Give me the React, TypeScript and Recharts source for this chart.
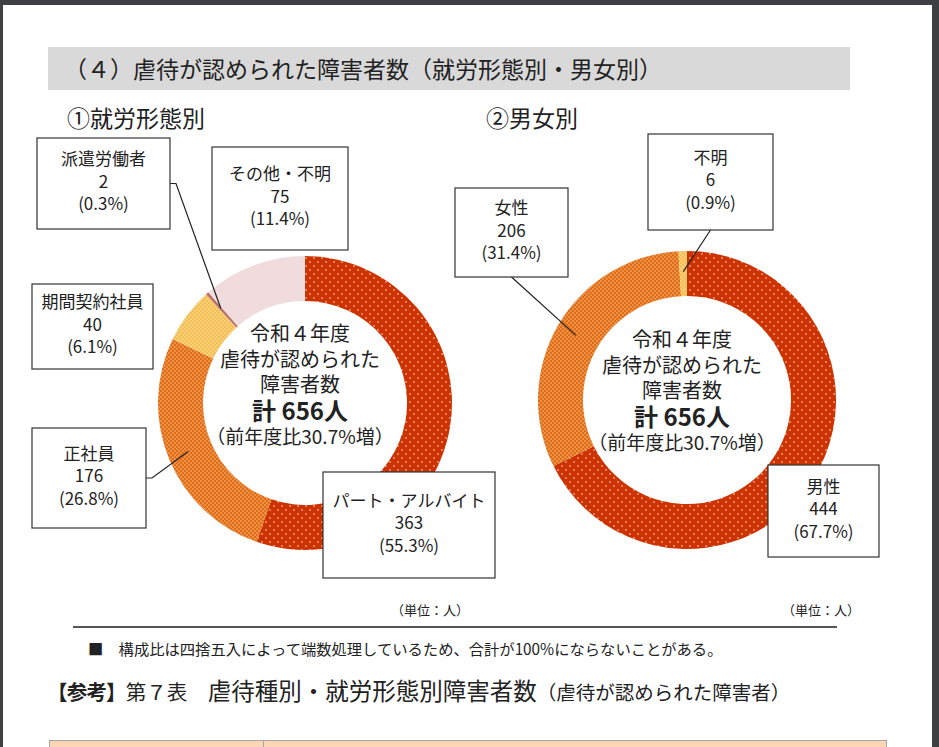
import { PieChart, Pie, Cell } from "recharts"

const employmentNames = ["パート・アルバイト", "正社員", "期間契約社員", "派遣労働者", "その他・不明"]
const employmentValues = [363, 176, 40, 2, 75]
const genderNames = ["男性", "女性", "不明"]
const genderValues = [444, 206, 6]

const centerLines = ["令和４年度", "虐待が認められた", "障害者数"]
const totalLabel = "計 656人"
const growthLabel = "（前年度比30.7%増）"

const pageTitle = "（４）虐待が認められた障害者数（就労形態別・男女別）"
const leftTitle = "①就労形態別"
const rightTitle = "②男女別"
const unitLabel = "（単位：人）"
const footNote = "■　構成比は四捨五入によって端数処理しているため、合計が100%にならないことがある。"

const RADIAN = Math.PI / 180
const FONT = '"Noto Sans CJK JP", "Noto Sans", sans-serif'
const INK = "#222"
// baseline shift that puts a Noto CJK glyph's middle on a given y
const mid = (fs: number) => fs * 0.436

type Box = { x: number; y: number; w: number; h: number; link?: "right" | "bottom" }

// label boxes, laid out like the original sheet
const employmentBoxes: Box[] = [
  { x: 323, y: 472, w: 172, h: 106 },
  { x: 32, y: 428, w: 114, h: 100, link: "right" },
  { x: 32, y: 284, w: 121, h: 85 },
  { x: 37, y: 138, w: 133, h: 91, link: "right" },
  { x: 212, y: 147, w: 136, h: 103 },
]
const genderBoxes: Box[] = [
  { x: 768, y: 465, w: 111, h: 92 },
  { x: 455, y: 188, w: 113, h: 89, link: "bottom" },
  { x: 648, y: 134, w: 125, h: 96, link: "bottom" },
]

const employmentFills = ["url(#dotRed)", "url(#dotOrange)", "url(#dotYellow)", "#B86E6C", "#F0DCDC"]
const genderFills = ["url(#dotRed)", "url(#dotOrange)", "url(#dotYellow)"]

const employmentData = employmentNames.map((name, i) => ({ name, value: employmentValues[i] }))
const genderData = genderNames.map((name, i) => ({ name, value: genderValues[i] }))

const boxLabel = (boxes: Box[], names: string[], values: number[]) => (props: any) => {
  const { cx, cy, midAngle, innerRadius, outerRadius, index, percent } = props
  const b = boxes[index]
  const lines = [names[index], String(values[index]), `(${(percent * 100).toFixed(1)}%)`]
  let leader = null
  if (b.link) {
    const r = (innerRadius + outerRadius) / 2 + 2
    const ax = cx + r * Math.cos(-midAngle * RADIAN)
    const ay = cy + r * Math.sin(-midAngle * RADIAN)
    const pts =
      b.link === "right"
        ? [[b.x + b.w, b.y + b.h / 2], [b.x + b.w + 6, b.y + b.h / 2], [ax, ay]]
        : [[b.x + b.w / 2, b.y + b.h], [ax, ay]]
    leader = <polyline points={pts.map((p) => p.join(",")).join(" ")} fill="none" stroke={INK} strokeWidth={1.2} />
  }
  const tx = b.x + b.w / 2
  const ty = b.y + b.h / 2 - 3
  return (
    <g key={`box-${index}`}>
      {leader}
      <rect x={b.x} y={b.y} width={b.w} height={b.h} fill="#fff" stroke="#333" strokeWidth={1.2} />
      <text textAnchor="middle" fontSize={17} fontFamily={FONT} fill={INK}>
        {lines.map((t, i) => (
          <tspan key={i} x={tx} y={ty + (i - 1) * 22.5 + mid(17)}>
            {t}
          </tspan>
        ))}
      </text>
    </g>
  )
}

// the text in the donut hole, one text element per chart
const CenterText = ({ cx, top }: { cx: number; top: number }) => (
  <text textAnchor="middle" fontFamily={FONT} fill={INK}>
    {centerLines.map((t, i) => (
      <tspan key={t} x={cx} y={top + 12.75 + i * 25.5 + mid(20)} fontSize={20}>
        {t}
      </tspan>
    ))}
    <tspan x={cx} y={top + 89.5 + mid(24)} fontSize={24} fontWeight={700}>
      {totalLabel}
    </tspan>
    <tspan x={cx} y={top + 115.5 + mid(19)} fontSize={19}>
      {growthLabel}
    </tspan>
  </text>
)

const Patterns = () => (
  <svg width={0} height={0} style={{ position: "absolute" }}>
    <defs>
      <pattern id="dotRed" width={8} height={8} patternUnits="userSpaceOnUse">
        <rect width={8} height={8} fill="#CC3300" />
        <circle cx={2} cy={2} r={0.8} fill="#fff" opacity={0.85} />
        <circle cx={6} cy={6} r={0.8} fill="#fff" opacity={0.85} />
      </pattern>
      <pattern id="dotOrange" width={4} height={4} patternUnits="userSpaceOnUse">
        <rect width={4} height={4} fill="#E26D12" />
        <circle cx={1} cy={1} r={0.75} fill="#fff" opacity={0.6} />
        <circle cx={3} cy={3} r={0.75} fill="#fff" opacity={0.6} />
      </pattern>
      <pattern id="dotYellow" width={4} height={4} patternUnits="userSpaceOnUse">
        <rect width={4} height={4} fill="#F5C052" />
        <circle cx={1} cy={1} r={0.75} fill="#fff" opacity={0.6} />
        <circle cx={3} cy={3} r={0.75} fill="#fff" opacity={0.6} />
      </pattern>
    </defs>
  </svg>
)

const abs = (left: number, top: number, extra: any = {}) => ({
  position: "absolute" as const,
  left,
  top,
  fontFamily: FONT,
  color: INK,
  whiteSpace: "nowrap" as const,
  ...extra,
})

export default function App() {
  return (
    <div style={{ position: "relative", width: 939, height: 747, background: "#3E4042", overflow: "hidden" }}>
      <style>{"body{margin:0}"}</style>
      <Patterns />
      <div style={{ position: "absolute", left: 3, top: 5, width: 929, height: 742, background: "#fff" }} />

      <div style={abs(48, 47, { width: 802, height: 43, background: "#D9D9D9" })} />
      <div style={abs(64, 47, { fontSize: 23, lineHeight: "43px" })}>{pageTitle}</div>
      <div style={abs(67, 104, { fontSize: 23, lineHeight: "26px" })}>{leftTitle}</div>
      <div style={abs(486, 104, { fontSize: 23, lineHeight: "26px" })}>{rightTitle}</div>

      <div style={{ position: "absolute", left: 0, top: 0 }}>
        <PieChart width={939} height={747}>
          <Pie
            data={employmentData}
            dataKey="value"
            cx={300}
            cy={398}
            innerRadius={102}
            outerRadius={147}
            startAngle={90}
            endAngle={-270}
            stroke="none"
            labelLine={false}
            label={boxLabel(employmentBoxes, employmentNames, employmentValues)}
            isAnimationActive={false}
          >
            {employmentData.map((d, i) => (
              <Cell key={d.name} fill={employmentFills[i]} />
            ))}
          </Pie>
          <Pie
            data={genderData}
            dataKey="value"
            cx={682}
            cy={395}
            innerRadius={104}
            outerRadius={149}
            startAngle={90}
            endAngle={-270}
            stroke="none"
            labelLine={false}
            label={boxLabel(genderBoxes, genderNames, genderValues)}
            isAnimationActive={false}
          >
            {genderData.map((d, i) => (
              <Cell key={d.name} fill={genderFills[i]} />
            ))}
          </Pie>
        </PieChart>
      </div>

      <svg width={939} height={747} style={{ position: "absolute", left: 0, top: 0, pointerEvents: "none" }}>
        <CenterText cx={300} top={320} />
        <CenterText cx={682} top={326} />
      </svg>

      <div style={abs(391, 601, { fontSize: 13, lineHeight: "18px" })}>{unitLabel}</div>
      <div style={abs(782, 601, { fontSize: 13, lineHeight: "18px" })}>{unitLabel}</div>
      <div style={{ position: "absolute", left: 73, top: 626, width: 764, height: 1.5, background: "#555" }} />
      <div style={abs(88, 639, { fontSize: 15.3, lineHeight: "18px" })}>{footNote}</div>

      <div style={abs(47, 676, { fontSize: 23.5, lineHeight: "28px" })}>
        <b style={{ fontSize: 20.5, letterSpacing: -0.8 }}>【参考】</b>
        <span style={{ fontSize: 20.5 }}>第７表　</span>
        虐待種別・就労形態別障害者数
        <span style={{ fontSize: 19.5 }}>（虐待が認められた障害者）</span>
      </div>

      <div
        style={{
          position: "absolute",
          left: 49,
          top: 740,
          width: 836,
          height: 20,
          background: "#FCD5B4",
          border: "1px solid #A6A6A6",
        }}
      />
      <div style={{ position: "absolute", left: 263, top: 740, width: 1, height: 10, background: "#A6A6A6" }} />
    </div>
  )
}
